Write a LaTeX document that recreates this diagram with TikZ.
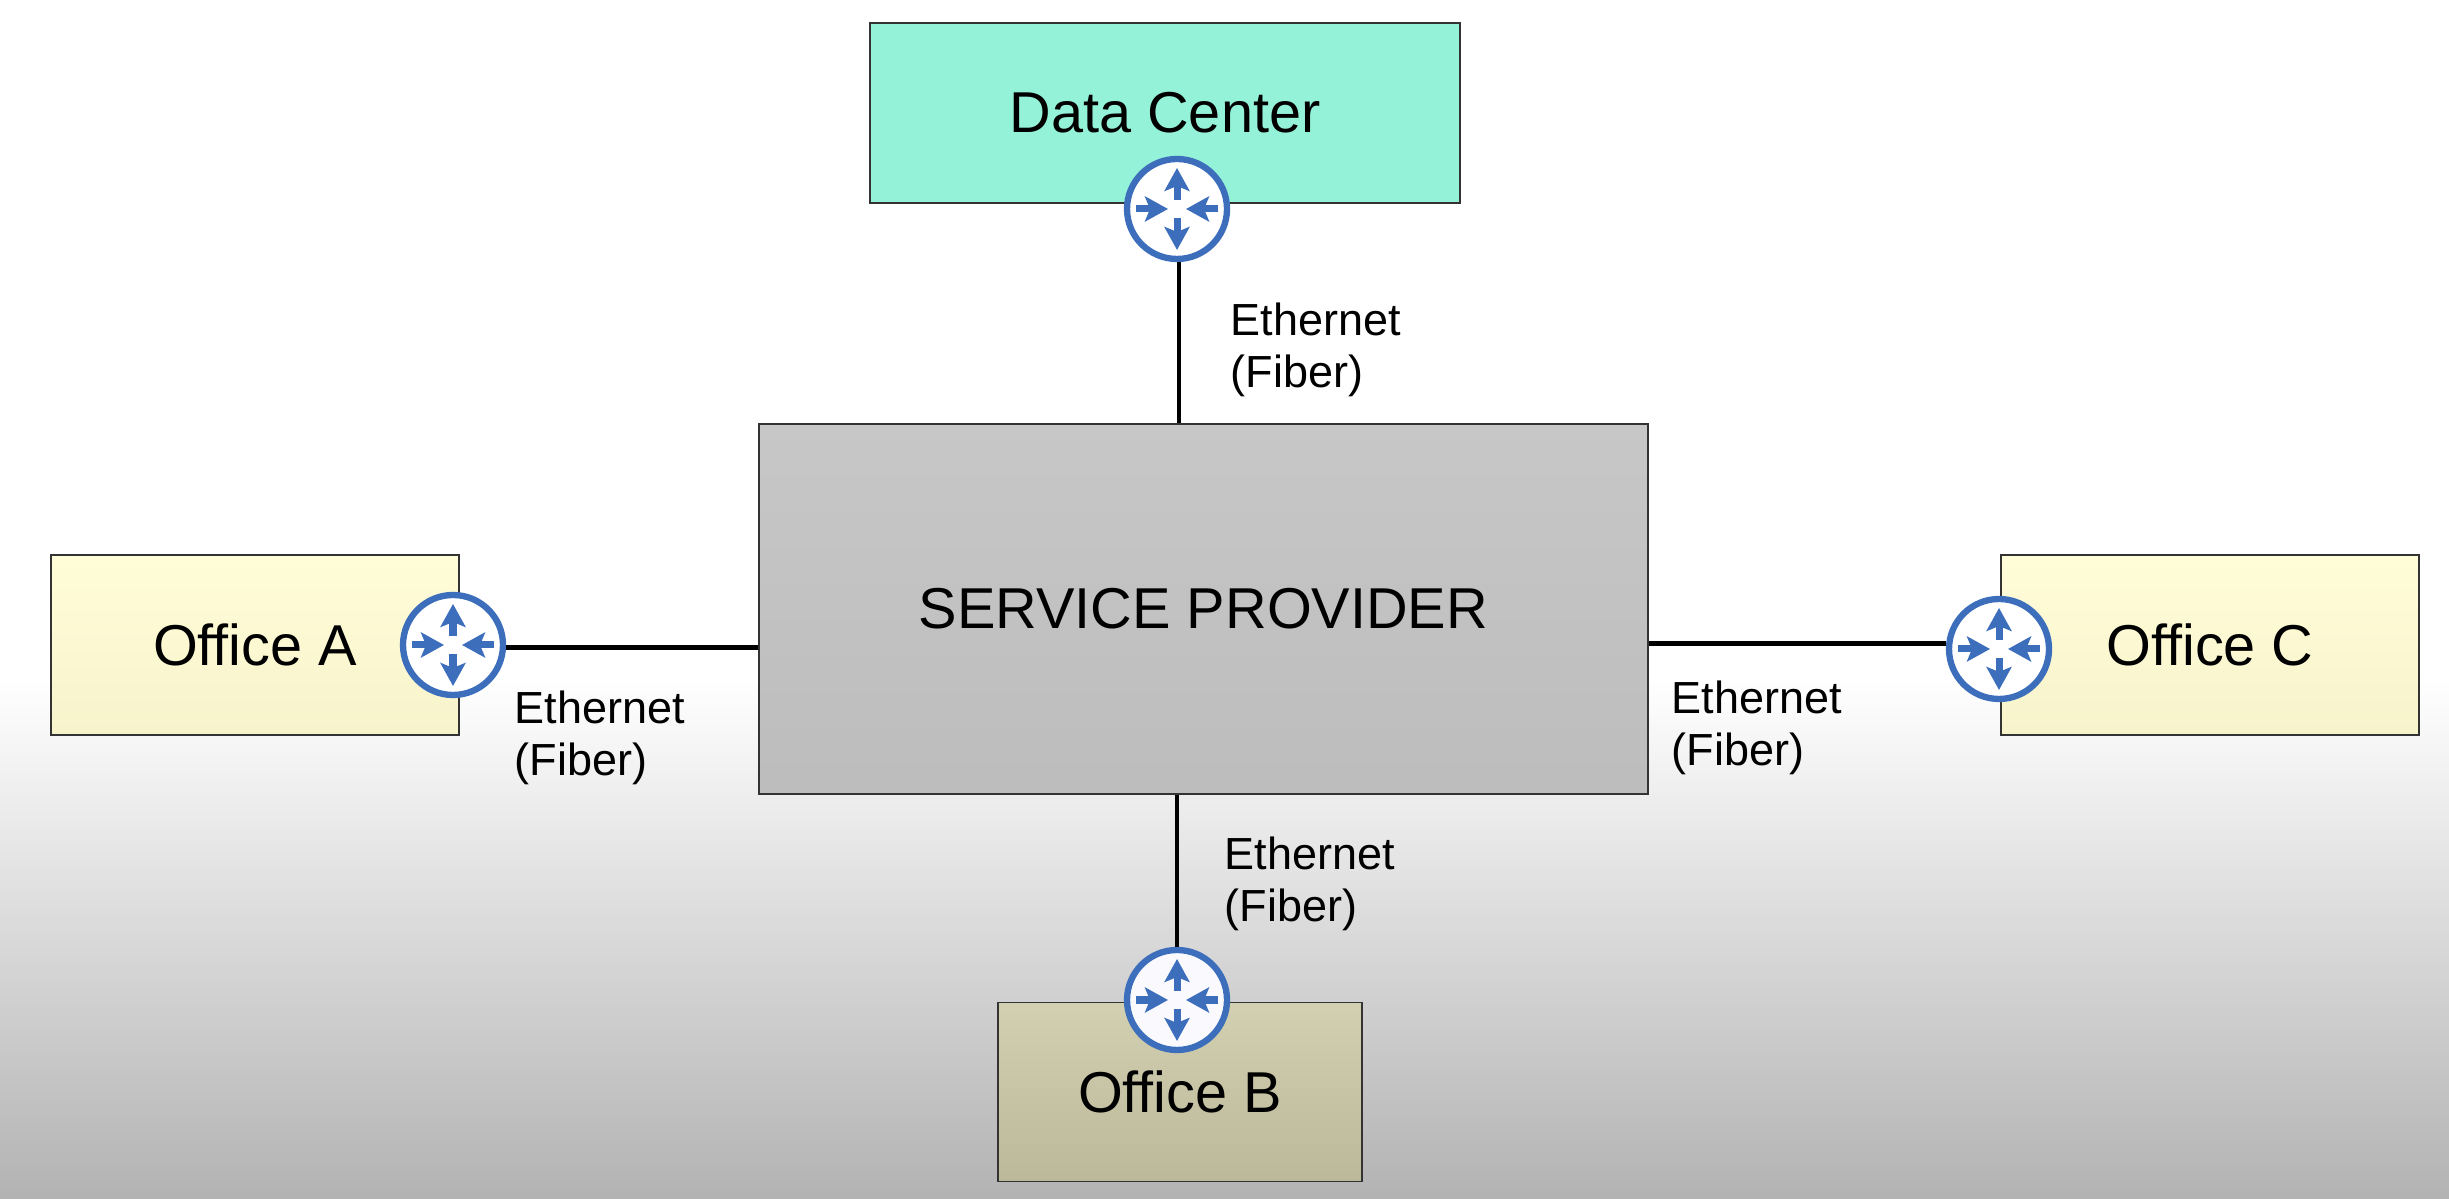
\documentclass[tikz,border=0pt]{standalone}
\usepackage{fontspec}
\setmainfont{Liberation Sans}
\usepackage{xcolor}
\usetikzlibrary{arrows.meta}
\definecolor{routerblue}{HTML}{3C6EBC}
\definecolor{dcgreen}{HTML}{94F2D8}
\definecolor{officetop}{HTML}{FFFCD8}
\definecolor{officelow}{HTML}{F7F4CC}
\definecolor{obtop}{HTML}{D2D0B0}
\definecolor{oblow}{HTML}{BCB89A}
\tikzset{
	site/.style={draw=black!80,line width=0.5pt,inner sep=0pt,font=\fontsize{16.4}{19}\selectfont},
	router/.style={circle,draw=routerblue,line width=1.8pt,fill=#1,minimum size=1.0cm,inner sep=0pt},
	router/.default={white},
	link/.style={line width=1.3pt,black},
	tip/.style={line width=2pt,routerblue,-{Stealth[length=2.3mm,width=2.5mm,inset=0.5mm]}},
	medium/.style={anchor=north west,align=left,inner sep=0pt,font=\fontsize{12.8}{14.8}\selectfont}
}
\begin{document}
\begin{tikzpicture}
		\fill[white] (0,0) rectangle (24.49,11.99);
		\shade[top color=white,bottom color=black!30] (0,0) rectangle (24.49,5.2);
		\node[site,fill=dcgreen,minimum width=5.9cm,minimum height=1.8cm] (dc) at (11.65,10.86) {Data Center};
		\node[site,top color=black!22,bottom color=black!26,minimum width=8.89cm,minimum height=3.70cm] (sp) at (12.035,5.90) {SERVICE PROVIDER};
		\node[site,top color=officetop,bottom color=officelow,minimum width=4.08cm,minimum height=1.8cm] (oa) at (2.55,5.54) {Office A};
		\node[site,top color=officetop,bottom color=officelow,minimum width=4.18cm,minimum height=1.8cm] (oc) at (22.10,5.54) {Office C};
		\node[site,top color=obtop,bottom color=oblow,minimum width=3.64cm,minimum height=1.79cm] (ob) at (11.80,1.07) {Office B};
		\node[router] (rd) at (11.77,9.90) {};
		\node[router] (ra) at (4.53,5.54) {};
		\node[router=black!10!blue!2!white] (rb) at (11.77,1.99) {};
		\node[router] (rc) at (19.99,5.50) {};
		\foreach \r in {rd,ra,rb,rc} {
			\foreach \a in {90,270} \draw[tip] (\r) ++(\a:0.09) -- ++(\a:0.32);
			\foreach \a in {0,180} \draw[tip] (\r) ++(\a:0.41) -- ++(\a:-0.32);
		}
		\draw[link] (rd.-88) -- (rd.-88 |- sp.north);
		\draw[link] (ra.-3) -- (ra.-3 -| sp.west);
		\draw[link] (rb.north) -- (rb.north |- sp.south);
		\draw[link] (rc.174) -- (rc.174 -| sp.east);
		\node[medium] (ld) at (12.30,8.97) {Ethernet\\(Fiber)};
		\node[medium] (la) at (5.14,5.09) {Ethernet\\(Fiber)};
		\node[medium] (lb) at (12.24,3.63) {Ethernet\\(Fiber)};
		\node[medium] (lc) at (16.71,5.19) {Ethernet\\(Fiber)};
\end{tikzpicture}
\end{document}
